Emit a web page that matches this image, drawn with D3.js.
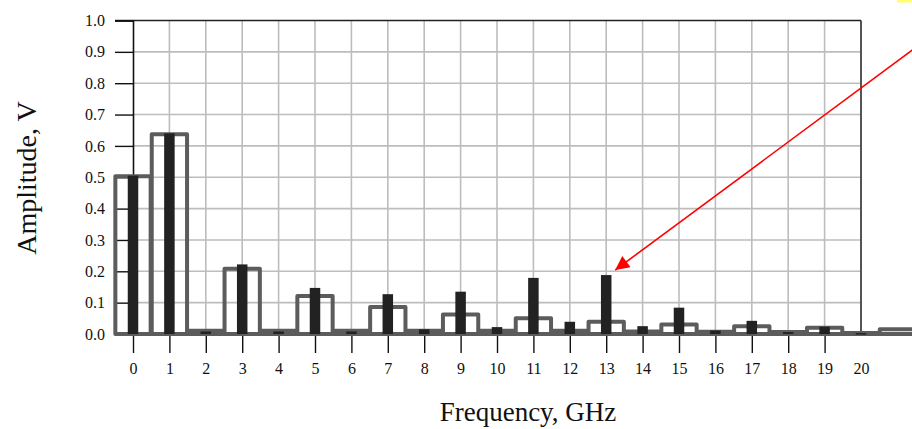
<!DOCTYPE html>
<html>
<head>
<meta charset="utf-8">
<script src="https://cdn.jsdelivr.net/npm/d3@7"></script>
<style>
  html, body { margin: 0; padding: 0; background: #fff; }
  svg { display: block; }
  text { font-family: "Liberation Serif", "Times New Roman", serif; fill: #111; }
</style>
</head>
<body>
<svg id="chart" width="912" height="429"></svg>
<script>
// ---- data ----
const frequencies = [0,1,2,3,4,5,6,7,8,9,10,11,12,13,14,15,16,17,18,19,20];
const measured = [0.505,0.64,0.008,0.222,0.008,0.147,0.008,0.127,0.015,0.135,0.022,0.179,0.039,0.188,0.025,0.084,0.011,0.042,0.006,0.023,0.003];
const outlineFreqs = [0,1,2,3,4,5,6,7,8,9,10,11,12,13,14,15,16,17,18,19,20,21];
const outlineValues = [0.503,0.637,0.01,0.208,0.01,0.121,0.01,0.086,0.01,0.062,0.01,0.05,0.01,0.039,0.008,0.03,0.007,0.025,0.006,0.02,0.003,0.015];
const yTicks = [0.0,0.1,0.2,0.3,0.4,0.5,0.6,0.7,0.8,0.9,1.0];
const xTickLabels = ["0","1","2","3","4","5","6","7","8","9","10","11","12","13","14","15","16","17","18","19","20"];
const xTitle = "Frequency, GHz";
const yTitle = "Amplitude, V";
const arrowTarget = 13;

// ---- layout ----
const svg = d3.select("#chart");
const x = d3.scaleLinear().domain([0, 20]).range([133, 861]);
const y = d3.scaleLinear().domain([0, 1]).range([334, 20.5]);
const step = x(1) - x(0);

// grid
const grid = svg.append("g");
grid.selectAll("line.v").data(frequencies.filter(d => d > 0 && d < 20)).join("line")
  .attr("x1", d => x(d)).attr("x2", d => x(d))
  .attr("y1", y(0)).attr("y2", y(1))
  .attr("stroke", "#bdbdbd").attr("stroke-width", 1.6);
grid.selectAll("line.h").data(yTicks.filter(d => d > 0 && d < 1)).join("line")
  .attr("x1", x(0)).attr("x2", x(20))
  .attr("y1", d => y(d)).attr("y2", d => y(d))
  .attr("stroke", "#bdbdbd").attr("stroke-width", 1.6);

// frame
svg.append("line").attr("x1", x(20)).attr("x2", x(20)).attr("y1", y(1)).attr("y2", y(0))
  .attr("stroke", "#555").attr("stroke-width", 2);
svg.append("line").attr("x1", 115).attr("x2", x(20)).attr("y1", y(1)).attr("y2", y(1))
  .attr("stroke", "#222").attr("stroke-width", 1.6);

// y axis
const yAxis = d3.axisLeft(y).tickValues(yTicks).tickFormat(d3.format(".1f")).tickSize(18).tickPadding(10);
const gy = svg.append("g").attr("transform", `translate(${x(0)},0)`).call(yAxis);
gy.select(".domain").attr("stroke", "#111").attr("stroke-width", 1.6);
gy.selectAll(".tick line").attr("stroke", "#111").attr("stroke-width", 1.4);
gy.selectAll(".tick text").style("font-family", "'Liberation Serif', serif").style("font-size", "16px").attr("fill", "#111");

// x axis
const xAxis = d3.axisBottom(x).tickValues(frequencies).tickFormat((d, i) => xTickLabels[i]).tickSize(19).tickPadding(10).tickSizeOuter(0);
const gx = svg.append("g").attr("transform", `translate(0,${y(0)})`).call(xAxis);
gx.select(".domain").attr("stroke", "#333").attr("stroke-width", 1.6);
gx.selectAll(".tick line").attr("stroke", "#111").attr("stroke-width", 1.4)
  .attr("opacity", d => d === 20 ? 0 : 1);
gx.selectAll(".tick text").style("font-family", "'Liberation Serif', serif").style("font-size", "16px").attr("fill", "#111");

// outline (gray) series
const half = step * 0.485;
svg.append("g").selectAll("rect").data(outlineFreqs).join("rect")
  .attr("x", d => x(d) - half)
  .attr("width", half * 2)
  .attr("y", (d, i) => y(outlineValues[i]))
  .attr("height", (d, i) => y(0) - y(outlineValues[i]))
  .attr("fill", "none")
  .attr("stroke", "#5c5c5c")
  .attr("stroke-width", 4)
  .attr("stroke-linejoin", "round");

// measured (black) bars
const bw = 10.5;
svg.append("g").selectAll("rect").data(frequencies).join("rect")
  .attr("x", d => x(d) - bw / 2)
  .attr("width", bw)
  .attr("y", (d, i) => y(measured[i]))
  .attr("height", (d, i) => Math.max(1.5, y(0) - y(measured[i])))
  .attr("fill", "#222");

// titles
svg.append("text").attr("x", 528).attr("y", 421).attr("text-anchor", "middle")
  .style("font-size", "27px").text(xTitle);
svg.append("text").attr("transform", "translate(36,178) rotate(-90)").attr("text-anchor", "middle")
  .style("font-size", "28px").text(yTitle);

// red annotation arrow
const defs = svg.append("defs");
defs.append("marker").attr("id", "ah").attr("viewBox", "0 0 10 10")
  .attr("refX", 10).attr("refY", 5)
  .attr("markerUnits", "userSpaceOnUse").attr("orient", "auto")
  .attr("markerWidth", 19).attr("markerHeight", 14)
  .append("path").attr("d", "M0,0 L10,5 L0,10 Z").attr("fill", "#ff0000");
const tipX = x(arrowTarget) + 9, tipY = y(measured[arrowTarget]) - 5;
svg.append("line").attr("x1", 930).attr("y1", 37).attr("x2", tipX).attr("y2", tipY)
  .attr("stroke", "#ff0000").attr("stroke-width", 1.6).attr("marker-end", "url(#ah)");

// small yellow highlight at top-right corner
svg.append("rect").attr("x", 897).attr("y", 0).attr("width", 15).attr("height", 2.5).attr("fill", "#ffff70");
</script>
</body>
</html>
